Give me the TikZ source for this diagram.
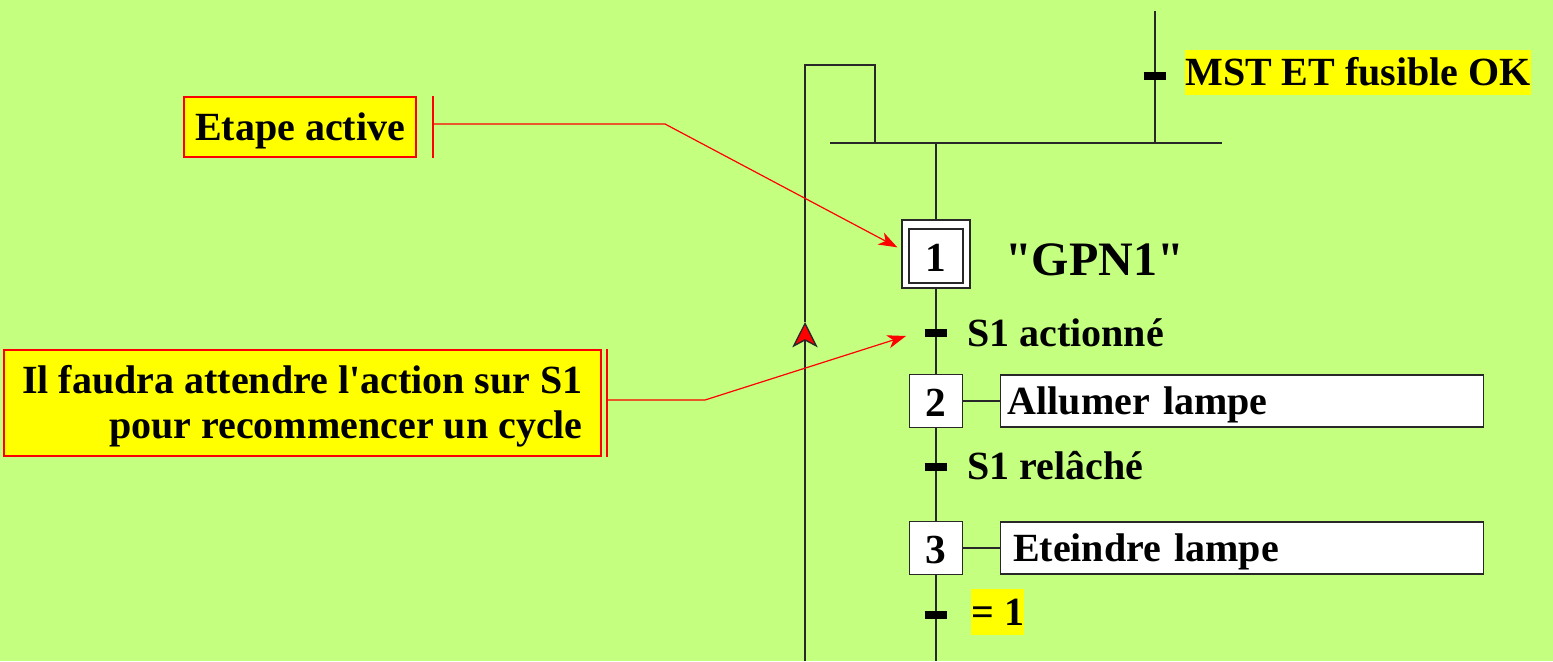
\documentclass[tikz,border=0pt]{standalone}
\usepackage{fontspec}
\setmainfont{Liberation Serif}[Ligatures=TeXOff]
\usetikzlibrary{arrows.meta}
\definecolor{fond}{RGB}{196,255,128}
\definecolor{jaune}{RGB}{255,255,0}
\definecolor{trait}{RGB}{40,40,40}
\tikzset{
  etape/.style={draw=trait,line width=1pt,fill=white,minimum width=39.75pt,minimum height=39.75pt,inner sep=0pt,text height=22.5pt,text depth=0pt,font=\bfseries\fontsize{31}{34}\selectfont},
  action/.style={draw=trait,line width=1pt,fill=white,minimum width=362pt,minimum height=39pt,inner sep=0pt,text width=356pt,text height=20pt,text depth=0pt,align=left,anchor=west,font=\bfseries\fontsize{30}{34}\selectfont},
  recept/.style={anchor=west,inner sep=0pt,text height=20pt,text depth=0pt,font=\bfseries\fontsize{30}{34}\selectfont},
  barre/.style={line width=6.5pt,black},
  bulle/.style={draw=red,line width=1pt,fill=jaune,inner sep=0pt,font=\bfseries\fontsize{30}{33.75}\selectfont},
  rappel/.style={red,line width=0.9pt},
}
\begin{document}
\begin{tikzpicture}[x=0.75pt,y=-0.75pt]
\fill[fond] (0,0) rectangle (1553,661);
\useasboundingbox (0,0) rectangle (1553,661);
\def\XG{936};\def\XB{805};
\coordinate (bas) at (\XG,661);
\coordinate (synG) at (830,143);
\coordinate (synD) at (1222,143);
\coordinate (syn1) at (\XG,143);
\coordinate (synR) at (875,143);
\coordinate (haut) at (1155,11);
\coordinate (t0) at (1155,76);
\coordinate (t1) at (\XG,333);
\coordinate (t2) at (\XG,467);
\coordinate (t3) at (\XG,615);
\coordinate (boucleB) at (\XB,661);
\coordinate (boucleF) at (\XB,322);
\coordinate (boucleH) at (\XB,65);
\node[etape,minimum width=51pt,minimum height=51pt] (e1) at (\XG,254) {};
\node[etape,minimum width=40.5pt,minimum height=40.5pt] (e1i) at (\XG,256) {1};
\node[etape] (e2) at (\XG,401) {2};
\node[etape] (e3) at (\XG,548) {3};
\node[action] (a2) at (1000,401) {\hspace*{2.25pt}Allumer lampe};
\node[action] (a3) at (1000,548) {\hspace*{6.25pt}Eteindre lampe};
\node[anchor=west,inner sep=0pt,text height=23.8pt,text depth=0pt,font=\bfseries\fontsize{36}{40}\selectfont] (nom) at (1005,260) {"GPN1"};
\draw[trait,line width=1pt] (synG)--(synD);
\draw[trait,line width=1pt] (haut)--(synD -| haut);
\draw[trait,line width=1pt] (syn1)--(e1.north) (e1.south)--(e2.north) (e2.south)--(e3.north) (e3.south)--(bas);
\draw[trait,line width=1pt] (e2.east)--(a2.west) (e3.east)--(a3.west);
\draw[trait,line width=1pt,-{Stealth[length=19pt,width=19pt,inset=5pt,fill=red]}] (boucleB)--(boucleF);
\draw[trait,line width=1pt] (boucleF)--(boucleH)--(boucleH -| synR)--(synR);
\draw[barre] ([xshift=-8.6pt]t0)--([xshift=8.6pt]t0);
\draw[barre] ([xshift=-8.6pt]t1)--([xshift=8.6pt]t1);
\draw[barre] ([xshift=-8.6pt]t2)--([xshift=8.6pt]t2);
\draw[barre] ([xshift=-8.6pt]t3)--([xshift=8.6pt]t3);
\node[recept,fill=jaune,minimum height=34pt] (r0) at (1185,72.5) {MST ET fusible OK};
\node[recept] (r1) at (967,333) {S1 actionné};
\node[recept] (r2) at (967,466) {S1 relâché};
\node[recept,fill=jaune,minimum height=34.5pt] (r3) at (971,612) {= 1};
\node[bulle,minimum width=174pt,minimum height=45pt,text height=20pt,text depth=0pt] (b1) at (300,127) {Etape active};
\node[bulle,minimum width=447.75pt,minimum height=79.5pt,align=right,text height=53.75pt,text depth=0pt] (b2) at (302.5,403) {Il faudra attendre l'action sur S1\\pour recommencer un cycle};
\coordinate (c1) at (433,124);
\coordinate (c1c) at (665,124);
\coordinate (c2) at (607,400);
\coordinate (c2c) at (705,400);
\draw[rappel] (c1 |- b1.north)--(c1 |- b1.south);
\draw[rappel] (c2 |- b2.north)--(c2 |- b2.south);
\draw[rappel,-{Stealth[length=14pt,width=10pt,inset=4pt]}] (c1)--(c1c)--([xshift=-3pt,yshift=5pt]e1.west);
\draw[rappel,-{Stealth[length=14pt,width=10pt,inset=4pt]}] (c2)--(c2c)--([xshift=-22.5pt,yshift=-2.25pt]t1);
\end{tikzpicture}
\end{document}
